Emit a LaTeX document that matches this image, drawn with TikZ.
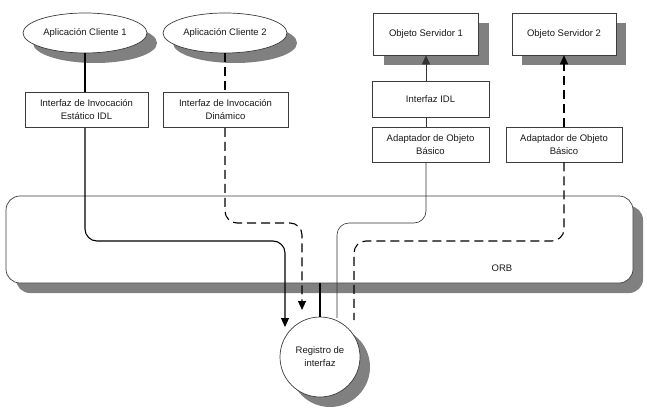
\documentclass[tikz,border=0pt]{standalone}
\usepackage{fontspec}
\setmainfont{Liberation Sans}
\usetikzlibrary{shapes.geometric,shadows,arrows.meta}
\definecolor{shadowgray}{RGB}{128,128,128}
\definecolor{edgegray}{RGB}{60,60,60}
\definecolor{textgray}{RGB}{25,25,25}
\tikzset{
  base/.style={draw=edgegray, line width=0.7pt, fill=white, text=textgray,
    font=\fontsize{9.5}{13}\selectfont, align=center, inner sep=0pt},
  shadowed/.style={drop shadow={shadow xshift=10pt, shadow yshift=-10pt,
    fill=shadowgray, opacity=1}},
  appnode/.style={base, shadowed, ellipse, minimum width=124pt, minimum height=40pt},
  srvnode/.style={base, shadowed, rectangle, minimum width=105pt, minimum height=42pt},
  ifbox/.style={base, rectangle, minimum height=35pt},
  regnode/.style={base, shadowed, circle, minimum size=80pt},
  busnode/.style={base, shadowed, rectangle, rounded corners=14pt,
    minimum width=627pt, minimum height=87pt},
  solidline/.style={line width=1.1pt, black},
  thinline/.style={line width=0.6pt, black!80},
  dashline/.style={line width=1.1pt, black, dash pattern=on 9pt off 5pt},
  thickline/.style={line width=2.4pt, black},
  arrowtip/.style={-{Triangle[length=9pt,width=8pt]}},
  elbow/.style={rounded corners=12pt}
}
\begin{document}
\begin{tikzpicture}[x=1pt, y=-1pt]
  \useasboundingbox (0,0) rectangle (647,417);

  % ORB bus
  \node[busnode] (orb) at (319.5,239.5) {};
  \node[text=textgray, font=\fontsize{9.5}{13}\selectfont] (orblabel) at (502,268) {ORB};

  % client side
  \node[appnode] (app1) at (85,33) {Aplicación Cliente 1};
  \node[appnode] (app2) at (225,33) {Aplicación Cliente 2};
  \node[ifbox, minimum width=123pt] (ii1) at (86.5,110) {Interfaz de Invocación\\Estático IDL};
  \node[ifbox, minimum width=125pt] (ii2) at (225.5,110) {Interfaz de Invocación\\Dinámico};

  % server side
  \node[srvnode] (os1) at (426,34) {Objeto Servidor 1};
  \node[srvnode, minimum width=104pt] (os2) at (564,34) {Objeto Servidor 2};
  \node[ifbox, minimum width=117pt, minimum height=36pt] (idl) at (430.5,99) {Interfaz IDL};
  \node[ifbox, minimum width=117pt] (ad1) at (430.5,144.5) {Adaptador de Objeto\\Básico};
  \node[ifbox, minimum width=116pt] (ad2) at (564,144.5) {Adaptador de Objeto\\Básico};

  % interface repository
  \node[regnode] (reg) at (320,357) {Registro de\\interfaz};

  % free ends of the connectors above the repository
  \coordinate (end1) at (285,327);
  \coordinate (end2) at (302,310);
  \coordinate (end3) at (337,318);
  \coordinate (end4) at (354,320);

  % static invocation path
  \draw[solidline] (app1.south) -- (app1.south |- ii1.north);
  \draw[solidline, arrowtip, elbow] (app1.south |- ii1.south) -- (85,241) -- (285,241) -- (end1);

  % dynamic invocation path
  \draw[dashline] (app2.south) -- (app2.south |- ii2.north);
  \draw[dashline, arrowtip, elbow] (app2.south |- ii2.south) -- (225,223) -- (302,223) -- (end2);

  % server 1 path
  \draw[thinline, arrowtip] (os1.south |- idl.north) -- (os1.south);
  \draw[thinline] (os1.south |- idl.south) -- (os1.south |- ad1.north);
  \draw[thinline, elbow] (os1.south |- ad1.south) -- (426,223) -- (337,223) -- (end3);

  % server 2 path
  \draw[dashline, arrowtip] (ad2.north) -- (os2.south);
  \draw[dashline, elbow] (ad2.south) -- (564,241) -- (354,241) -- (end4);

  % repository link to the bus
  \draw[thickline] (orb.south -| reg.north) -- (reg.north);
\end{tikzpicture}
\end{document}
